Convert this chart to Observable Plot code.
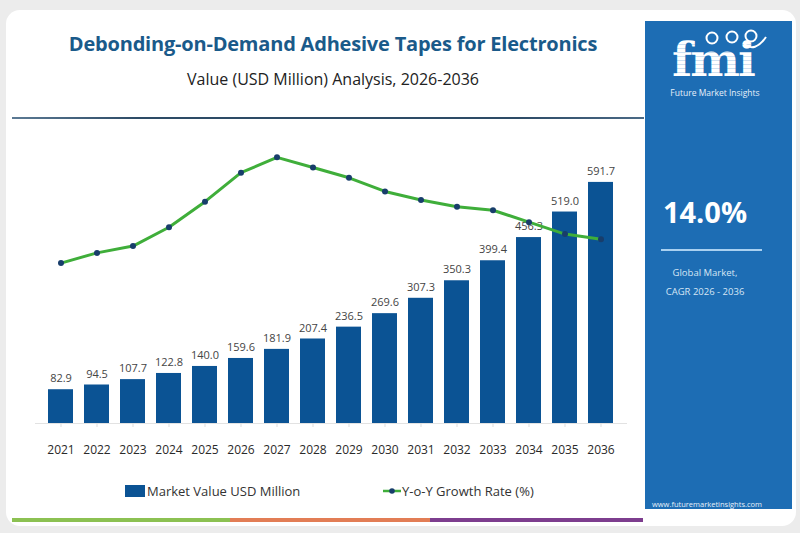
<!DOCTYPE html>
<html>
<head>
<meta charset="utf-8">
<script src="https://cdn.jsdelivr.net/npm/d3@7"></script>
<script src="https://cdn.jsdelivr.net/npm/@observablehq/plot@0.6"></script>
<style>
  html, body { margin: 0; padding: 0; }
  body { width: 800px; height: 533px; background: #ececec; position: relative; overflow: hidden; font-family: "Open Sans", sans-serif; }
  .card { position: absolute; left: 6px; top: 10px; width: 790px; height: 516px; background: #fff; border-radius: 14px; }
  .abs { position: absolute; }
  #title { left: 0; width: 666px; top: 30px; text-align: center; font-size: 20px; font-weight: 700; color: #1a5a8a; letter-spacing: -0.2px; }
  #subtitle { left: 0; width: 666px; top: 68px; text-align: center; font-size: 16px; color: #222; }
  #rule { left: 12px; top: 117px; width: 632px; height: 2px; background: linear-gradient(to right, #5c7a94, #2d4b66 20%, #2d4b66 80%, #4b6a86); }
  #chart, #overlay { left: 0; top: 130px; }
  #panel { left: 645px; top: 21px; width: 147px; height: 488px; background: #1d6db4; }
  .legend { top: 482px; font-size: 13px; color: #333; }
  .stripe { top: 518px; height: 4px; }
</style>
</head>
<body>
<div class="card"></div>
<div id="title" class="abs">Debonding-on-Demand Adhesive Tapes for Electronics</div>
<div id="subtitle" class="abs">Value (USD Million) Analysis, 2026-2036</div>
<div id="rule" class="abs"></div>
<div id="chart" class="abs"></div>
<div id="overlay" class="abs"></div>

<div class="abs legend" style="left:125px;">
  <span style="display:inline-block;width:20px;height:12px;background:#0b5394;vertical-align:-1px;"></span><span style="margin-left:2px;">Market Value USD Million</span>
</div>
<div class="abs legend" style="left:383px;">
  <svg width="18" height="12" style="vertical-align:-1px"><line x1="0" y1="6" x2="18" y2="6" stroke="#3fae3a" stroke-width="2.5"/><circle cx="9" cy="6" r="2.8" fill="#183d6b"/></svg><span style="margin-left:1px;">Y-o-Y Growth Rate (%)</span>
</div>

<div class="abs stripe" style="left:12px;width:218px;background:#8cc152;"></div>
<div class="abs stripe" style="left:230px;width:200px;background:#e27d55;"></div>
<div class="abs stripe" style="left:430px;width:213px;background:#7d3d8e;"></div>

<div id="panel" class="abs">
  <svg width="147" height="488" style="position:absolute;left:0;top:0;">
    <defs>
      <pattern id="stripes" width="4" height="4" patternUnits="userSpaceOnUse">
        <rect width="4" height="3" fill="#ffffff"/>
        <rect y="3" width="4" height="1" fill="#cfe0f0"/>
      </pattern>
    </defs>
    <text x="68" y="55" text-anchor="middle" font-family="DejaVu Serif" font-weight="700" font-size="47" fill="url(#stripes)" letter-spacing="-2">fmi</text>
    <circle cx="67" cy="17" r="5.5" fill="none" stroke="#fff" stroke-width="2"/>
    <circle cx="87" cy="16" r="5.5" fill="none" stroke="#fff" stroke-width="2"/>
    <circle cx="106" cy="15" r="5.5" fill="none" stroke="#fff" stroke-width="2"/>
    <path d="M99 23 Q110 32 121 16" fill="none" stroke="#fff" stroke-width="2"/>
    <text x="70" y="75" text-anchor="middle" font-family="Open Sans" font-size="8.5" fill="#e6f0fa">Future Market Insights</text>
    <text x="60" y="202" text-anchor="middle" font-family="Open Sans" font-weight="700" font-size="29" fill="#fff">14.0%</text>
    <line x1="16" y1="229" x2="117" y2="229" stroke="#a9d0f0" stroke-width="2"/>
    <text x="60" y="255" text-anchor="middle" font-family="Open Sans" font-size="9.5" fill="#d6e6f5">Global Market,</text>
    <text x="60" y="274" text-anchor="middle" font-family="Open Sans" font-size="9.5" fill="#d6e6f5">CAGR 2026 - 2036</text>
    <text x="62" y="486" text-anchor="middle" font-family="Open Sans" font-size="7.5" fill="#e6f0fa">www.futuremarketinsights.com</text>
  </svg>
</div>

<script>
const years = ["2021","2022","2023","2024","2025","2026","2027","2028","2029","2030","2031","2032","2033","2034","2035","2036"];
const marketValue = [82.9, 94.5, 107.7, 122.8, 140.0, 159.6, 181.9, 207.4, 236.5, 269.6, 307.3, 350.3, 399.4, 456.3, 519.0, 591.7];
const growthRate = [9.4, 10.0, 10.4, 11.5, 13.0, 14.7, 15.6, 15.0, 14.4, 13.6, 13.1, 12.7, 12.5, 11.8, 11.1, 10.8];

const data = years.map((y, i) => ({year: y, value: marketValue[i], growth: growthRate[i]}));

const common = {
  width: 645, height: 340,
  marginLeft: 35, marginRight: 18, marginTop: 20, marginBottom: 47,
  style: {background: "transparent", fontFamily: "Open Sans, sans-serif", overflow: "visible"}
};

const bars = Plot.plot({
  ...common,
  x: {type: "band", domain: years, padding: 0.3, axis: null},
  y: {domain: [0, 670], axis: null},
  marks: [
    Plot.ruleY([0], {stroke: "#e2e2e2"}),
    Plot.barY(data, {x: "year", y: "value", fill: "#0b5394"}),
    Plot.text(data, {x: "year", y: "value", text: d => d.value.toFixed(1), dy: -11, fontSize: 11, fill: "#444"}),
    Plot.axisX({domain: years, label: null, tickSize: 4, tickPadding: 18, fontSize: 12, color: "#333", stroke: "#ddd"})
  ]
});
bars.querySelectorAll("g[aria-label='x-axis tick']").forEach(g => g.setAttribute("stroke", "#ddd"));
bars.querySelectorAll("g[aria-label='x-axis tick label']").forEach(g => g.setAttribute("fill", "#2a2a2a"));
document.getElementById("chart").appendChild(bars);

const line = Plot.plot({
  ...common,
  x: {type: "band", domain: years, padding: 0.3, axis: null},
  y: {domain: [0, 16], axis: null},
  marks: [
    Plot.line(data, {x: "year", y: "growth", stroke: "#3fae3a", strokeWidth: 3}),
    Plot.dot(data, {x: "year", y: "growth", r: 3, fill: "#183d6b"})
  ]
});
document.getElementById("overlay").appendChild(line);
</script>
</body>
</html>
